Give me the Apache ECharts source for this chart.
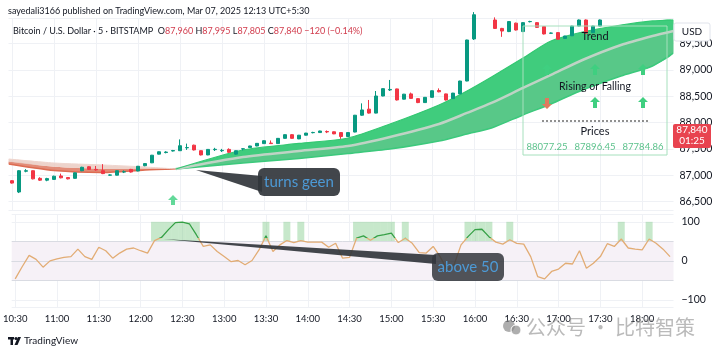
<!DOCTYPE html>
<html>
<head>
<meta charset="utf-8">
<title>BTCUSD 5m</title>
<script src="https://cdn.jsdelivr.net/npm/echarts@6/dist/echarts.min.js"></script>
<style>
	html, body { margin: 0; padding: 0; background: #fff; }
	#chart { width: 720px; height: 355px; }
</style>
</head>
<body>
<div id="chart"></div>
<script>
// 5 minute bars, first one at 10:30
var startMinute = 10 * 60 + 30;
var barCount = 95;
var times = [];
for (var i = 0; i < barCount; i++) {
	var m = startMinute + i * 5;
	times.push(Math.floor(m / 60) + ':' + ('0' + m % 60).slice(-2));
}

// [open, close, low, high]; '-' where the bar is above the visible range
var candles = [
	[86895, 86850, 86840, 86905], [86680, 87085, 86660, 87095], [87075, 87085, 87055, 87115], [87085, 86930, 86920, 87090],
	[86940, 86905, 86890, 86960], [86905, 86935, 86885, 86950], [86920, 86980, 86910, 86990], [86985, 86950, 86940, 87030],
	[86955, 86930, 86920, 86965], [86940, 87045, 86935, 87050], [87085, 87150, 87075, 87160], [87160, 87110, 87100, 87170],
	[87110, 87100, 87085, 87175], [87085, 87030, 87020, 87210], [87000, 87005, 86990, 87015], [87000, 87085, 86995, 87090],
	[87060, 87065, 87040, 87090], [87110, 87060, 87050, 87120], [87080, 87170, 87075, 87175], [87180, 87220, 87170, 87230],
	[87235, 87380, 87230, 87385], [87400, 87445, 87395, 87450], [87430, 87440, 87415, 87455], [87460, 87468, 87450, 87480],
	[87465, 87560, 87460, 87680], [87520, 87525, 87480, 87600], [87570, 87480, 87470, 87580], [87465, 87385, 87375, 87470],
	[87385, 87490, 87380, 87495], [87485, 87492, 87460, 87520], [87465, 87472, 87440, 87500], [87490, 87435, 87425, 87510],
	[87400, 87465, 87390, 87470], [87498, 87502, 87470, 87510], [87525, 87555, 87520, 87560], [87555, 87605, 87550, 87610],
	[87600, 87655, 87595, 87660], [87610, 87600, 87595, 87660], [87600, 87700, 87595, 87705], [87700, 87770, 87695, 87775],
	[87770, 87700, 87695, 87780], [87690, 87760, 87685, 87765], [87760, 87800, 87755, 87805], [87808, 87812, 87795, 87825],
	[87810, 87840, 87805, 87845], [87830, 87822, 87800, 87850], [87825, 87785, 87780, 87830], [87810, 87735, 87690, 87815],
	[87735, 87810, 87730, 87815], [87820, 88140, 87815, 88145], [88140, 88240, 88130, 88365], [88255, 88180, 88170, 88430],
	[88180, 88505, 88175, 88600], [88505, 88645, 88500, 88650], [88620, 88630, 88600, 88810], [88640, 88430, 88420, 88645],
	[88445, 88540, 88440, 88545], [88545, 88460, 88455, 88570], [88455, 88380, 88370, 88460], [88380, 88480, 88375, 88485],
	[88480, 88605, 88475, 88610], [88610, 88585, 88575, 88650], [88545, 88430, 88420, 88550], [88455, 88560, 88450, 88565],
	[88545, 88790, 88540, 88795], [88790, 89570, 88785, 89575], [89590, 90050, 89570, 90100], '-',
	'-', [89950, 89790, 89780, 90000], [89790, 89740, 89630, 89800], [89730, 89920, 89720, 89930],
	[89890, 89760, 89750, 89900], [89730, 89900, 89720, 89910], [89918, 89922, 89905, 89935], [89900, 89810, 89800, 89910],
	[89825, 89685, 89675, 89835], [89698, 89702, 89690, 89712], [89710, 89585, 89575, 89720], [89600, 89645, 89595, 89650],
	[89650, 89835, 89645, 89840], [89835, 89950, 89830, 89960], [89950, 89700, 89690, 89960], [89710, 89835, 89705, 89840],
	[89835, 89950, 89830, 89960], '-', '-', '-', '-', '-', '-', '-', '-', '-', '-'
];

// MA ribbon, read at a few bar positions
var redX = [-0.5, 6, 13, 19, 23.4];
var redSlow = [87308, 87232, 87194, 87156, 87118];
var redMid = [87260, 87160, 87120, 87128, 87118];
var redFast = [87213, 87090, 87052, 87099, 87118];

var greenX = [23.4, 33, 41, 48, 54, 61, 65, 68.5, 73, 77, 81.5, 87, 91.5, 94.5];
var greenFast = [87118, 87479, 87603, 87707, 87973, 88335, 88601, 88867, 89228, 89551, 89722, 89855, 89932, 89950];
var greenMid = [87118, 87346, 87460, 87555, 87726, 87973, 88183, 88373, 88658, 88905, 89190, 89475, 89646, 89741];
var greenSlow = [87118, 87232, 87317, 87413, 87498, 87650, 87783, 87897, 88145, 88354, 88620, 88886, 89076, 89323];

// lower pane oscillator
var osc = [
	-46, -15, 14, 4, -16, 0, 5, 9, 11, 30, 11, 4, 35, 26, 7, 20, 30, 33, 26, 20,
	52, 60, 80, 98, 99, 95, 67, 37, 41, 24, 11, -2, 1, -10, 1, 28, 64, 24, 41, 52,
	47, 52, 48, 48, 48, 35, 45, 7, 9, 58, 64, 53, 64, 67, 71, 47, 58, 45, 21, 20,
	37, 11, -23, -10, 41, 62, 80, 81, 62, 48, 43, 54, 45, 43, 11, -40, -46, -27, -21, -6,
	-8, 26, -19, -6, 11, 44, 37, 56, 33, 30, 28, 56, 45, 30, 11
];
var oscLevel = 50, oscMin = -118, oscMax = 120;

var crossBar = 23, crossPrice = 86530;
var tablePrices = ['88077.25', '87896.45', '87784.86'];
var lastClose = 87840, countdown = '01:25';

var UP = '#089981', DOWN = '#f23645', GRID = '#eff1f5', TXT = '#131722';

// filled ribbon between price lines (listed bottom to top), drawn through the axes
function ribbon(name, xs, lines, fills, strokes) {
	return {
		name: name, type: 'custom', xAxisIndex: 1, yAxisIndex: 0, silent: true, z: 1,
		data: xs.map(function (x, i) { return [x, lines[0][i]]; }),
		encode: { x: 0, y: 1 },
		renderItem: function (params, api) {
			if (params.dataIndex !== 0) return;
			var pts = lines.map(function (l) {
				return xs.map(function (x, i) { return api.coord([x, l[i]]); });
			});
			var children = [];
			fills.forEach(function (f, k) {
				children.push({
					type: 'polygon',
					shape: { points: pts[k].concat(pts[k + 1].slice().reverse()), smooth: 0.25 },
					style: { fill: f }
				});
			});
			strokes.forEach(function (s, k) {
				if (!s) return;
				children.push({
					type: 'polyline',
					shape: { points: pts[k], smooth: 0.25 },
					style: { stroke: s[0], lineWidth: s[1], fill: null }
				});
			});
			var cs = params.coordSys;
			return {
				type: 'group', children: children,
				clipPath: { type: 'rect', shape: { x: cs.x, y: cs.y, width: cs.width, height: cs.height } }
			};
		}
	};
}

var hlBase = osc.map(function (v) { return v > oscLevel ? oscLevel : '-'; });
var levelStop = (oscMax - oscLevel) / (oscMax - oscMin);

var chart = echarts.init(document.getElementById('chart'));

chart.setOption({
	animation: false,
	textStyle: { fontFamily: 'Lato, sans-serif' },
	grid: [
		{ left: 8.5, width: 665, top: 18, height: 192 },
		{ left: 8.5, width: 665, top: 214, height: 93 }
	],
	xAxis: [
		{
			type: 'category', gridIndex: 0, data: times,
			axisLine: { show: false }, axisTick: { show: false }, axisLabel: { show: false },
			splitLine: { show: true, interval: 5, alignWithLabel: true, lineStyle: { color: GRID } }
		},
		{ type: 'value', gridIndex: 0, min: -0.5, max: 94.5, show: false },
		{
			type: 'category', gridIndex: 1, data: times,
			axisLine: { show: true, lineStyle: { color: '#e0e3eb' } }, axisTick: { show: false },
			axisLabel: { interval: 5, color: TXT, fontSize: 9.5, margin: 7 },
			splitLine: { show: true, interval: 5, alignWithLabel: true, lineStyle: { color: GRID } }
		}
	],
	yAxis: [
		{
			type: 'value', gridIndex: 0, position: 'right', min: 86338, max: 89988, splitNumber: 7,
			axisLine: { show: false }, axisTick: { show: false },
			axisLabel: {
				color: TXT, fontSize: 10.5, margin: 6, showMinLabel: false, showMaxLabel: false,
				formatter: function (v) { return v.toLocaleString('en-US'); }
			},
			splitLine: { lineStyle: { color: GRID } }
		},
		{
			type: 'value', gridIndex: 1, position: 'right', min: oscMin, max: oscMax, splitNumber: 3,
			axisLine: { show: false }, axisTick: { show: false },
			axisLabel: {
				color: TXT, fontSize: 10.5, margin: 8, showMinLabel: false, showMaxLabel: false,
				formatter: function (v) { return v < 0 ? '\u2212' + Math.abs(v) : String(v); }
			},
			splitLine: { lineStyle: { color: GRID } }
		}
	],
	series: [
		ribbon('red ribbon', redX, [redFast, redMid, redSlow],
			['rgba(221,120,96,0.85)', 'rgba(233,200,190,0.8)'],
			[['#dd6c52', 1.5], null, ['#efd6cf', 1]]),
		ribbon('green ribbon', greenX, [greenSlow, greenMid, greenFast],
			['#58c888', '#40cc7d'],
			[['#3cc97c', 1.5], ['#bfd3c5', 2.5], ['#33c872', 1.2]]),
		{
			name: 'BTCUSD', type: 'candlestick', xAxisIndex: 0, yAxisIndex: 0,
			data: candles, barMaxWidth: 5, clip: true, z: 3,
			itemStyle: { color: UP, color0: DOWN, borderColor: UP, borderColor0: DOWN, borderWidth: 1 }
		},
		{
			name: 'cross', type: 'scatter', xAxisIndex: 0, yAxisIndex: 0,
			data: [[crossBar, crossPrice]], symbolSize: [10, 10], z: 4,
			symbol: 'path://M5,0 L10,5 L7,5 L7,10 L3,10 L3,5 L0,5 Z',
			itemStyle: { color: '#3ccf80' }
		},
		{
			name: 'hl base', type: 'bar', xAxisIndex: 2, yAxisIndex: 1, stack: 'hl',
			data: hlBase, barWidth: '100%', silent: true,
			itemStyle: { color: 'rgba(0,0,0,0)' },
			markArea: {
				silent: true, itemStyle: { color: '#f6f1f7' },
				data: [[{ yAxis: -oscLevel }, { yAxis: oscLevel }]]
			},
			markLine: {
				silent: true, symbol: 'none', label: { show: false },
				lineStyle: { color: '#d9dbe2', type: 'solid', width: 1 },
				data: [{ yAxis: oscLevel }, { yAxis: 0 }, { yAxis: -oscLevel }]
			}
		},
		{
			name: 'hl', type: 'bar', xAxisIndex: 2, yAxisIndex: 1, stack: 'hl',
			data: hlBase, barWidth: '100%', silent: true,
			itemStyle: { color: 'rgba(130,205,140,0.45)' }
		},
		{
			name: 'osc', type: 'line', xAxisIndex: 2, yAxisIndex: 1,
			data: osc, symbol: 'none', z: 5,
			lineStyle: {
				width: 1.3,
				color: new echarts.graphic.LinearGradient(0, 0, 0, 1, [
					{ offset: 0, color: '#35a045' }, { offset: levelStop, color: '#35a045' },
					{ offset: levelStop, color: '#e2ac74' }, { offset: 1, color: '#e2ac74' }
				], false)
			}
		}
	]
});

function arrow(cx, cy, up, color) {
	var s = up ? 1 : -1;
	return {
		type: 'polygon', z: 110, silent: true,
		shape: { points: [[cx, cy - 6 * s], [cx + 5, cy - 1 * s], [cx + 2, cy - 1 * s], [cx + 2, cy + 5 * s],
			[cx - 2, cy + 5 * s], [cx - 2, cy - 1 * s], [cx - 5, cy - 1 * s]] },
		style: { fill: color }
	};
}
function label(text, x, y, font, color, align) {
	return {
		type: 'text', z: 120, silent: true,
		style: { text: text, x: x, y: y, font: font, fill: color, align: align || 'center', verticalAlign: 'middle' }
	};
}

function overlays() {
	var py = chart.convertToPixel({ yAxisIndex: 0 }, lastClose);
	var g = [];
	// header
	g.push(label('sayedali3166 published on TradingView.com, Mar 07, 2025 12:13 UTC+5:30', 8, 11, '9px Lato', TXT, 'left'));
	g.push({
		type: 'text', z: 120, silent: true,
		style: {
			x: 13, y: 31, verticalAlign: 'middle',
			text: '{d|Bitcoin / U.S. Dollar · 5 · BITSTAMP  O}{r|87,960}{d| H}{r|87,995}{d| L}{r|87,805}{d| C}{r|87,840}{r| \u2212120 (\u22120.14%)}',
			rich: {
				d: { fill: TXT, font: '9px Lato' },
				r: { fill: '#d13b4c', font: '9px Lato' }
			}
		}
	});
	// table
	g.push({ type: 'rect', z: 105, silent: true, shape: { x: 523, y: 26, width: 144, height: 129 },
		style: { fill: 'none', stroke: '#a6e0bd', lineWidth: 1 } });
	g.push(label('Trend', 595, 36, '11px Lato', TXT));
	g.push(arrow(547, 70, true, '#3fcf80'));
	g.push(arrow(595, 70, true, '#3fcf80'));
	g.push(arrow(643, 70, true, '#3fcf80'));
	g.push(label('Rising or Falling', 595, 87, '10.5px Lato', TXT));
	g.push(arrow(547, 103, false, '#e07a5f'));
	g.push(arrow(595, 103, true, '#3fcf80'));
	g.push(arrow(643, 103, true, '#3fcf80'));
	g.push({ type: 'line', z: 110, silent: true, shape: { x1: 542, y1: 121, x2: 648, y2: 121 },
		style: { stroke: '#222', lineWidth: 1, lineDash: [2, 2] } });
	g.push(label('Prices', 595, 131, '11px Lato', TXT));
	g.push(label(tablePrices[0], 547, 147, '9.5px Lato', '#5cc28c'));
	g.push(label(tablePrices[1], 595, 147, '9.5px Lato', '#5cc28c'));
	g.push(label(tablePrices[2], 643, 147, '9.5px Lato', '#5cc28c'));
	// callouts
	g.push({ type: 'polygon', z: 115, silent: true, shape: { points: [[196, 170], [262, 176], [262, 192]] },
		style: { fill: 'rgba(50,54,60,0.92)' } });
	g.push({ type: 'rect', z: 115, silent: true, shape: { x: 258, y: 168, width: 82, height: 28, r: 6 },
		style: { fill: 'rgba(50,54,60,0.92)' } });
	g.push(label('turns geen', 299, 182, '15px Lato', '#4d9ad6'));
	g.push({ type: 'polygon', z: 115, silent: true, shape: { points: [[163, 239], [436, 255], [436, 264]] },
		style: { fill: 'rgba(50,54,60,0.92)' } });
	g.push({ type: 'rect', z: 115, silent: true, shape: { x: 432, y: 253, width: 72, height: 28, r: 6 },
		style: { fill: 'rgba(50,54,60,0.85)' } });
	g.push(label('above 50', 468, 267, '15px Lato', '#4d9ad6'));
	// price scale boxes
	g.push({ type: 'rect', z: 118, silent: true, shape: { x: 674, y: 23, width: 36, height: 18, r: 2 },
		style: { fill: '#fff', stroke: '#e0e3eb' } });
	g.push(label('USD', 692, 32, '10px Lato', TXT));
	g.push({ type: 'rect', z: 118, silent: true, shape: { x: 673, y: py - 7, width: 38, height: 24, r: 2 },
		style: { fill: '#e8434f' } });
	g.push(label(lastClose.toLocaleString('en-US'), 692, py - 1, '10px Lato', '#fff'));
	g.push(label(countdown, 692, py + 10, '10px Lato', '#fff'));
	// footer
	g.push({ type: 'rect', z: 118, silent: true, shape: { x: 8, y: 337, width: 6, height: 2.5 }, style: { fill: TXT } });
	g.push({ type: 'rect', z: 118, silent: true, shape: { x: 10.5, y: 337, width: 2.5, height: 8 }, style: { fill: TXT } });
	g.push({ type: 'circle', z: 118, silent: true, shape: { cx: 16, cy: 338.5, r: 1.6 }, style: { fill: TXT } });
	g.push({ type: 'polygon', z: 118, silent: true, shape: { points: [[18, 337], [21, 337], [17.5, 345], [14.5, 345]] }, style: { fill: TXT } });
	g.push(label('TradingView', 24, 341, '10px Lato', TXT, 'left'));
	// watermark
	g.push({ type: 'circle', z: 118, silent: true, shape: { cx: 509, cy: 326, r: 6 }, style: { fill: 'rgba(140,140,140,0.7)' } });
	g.push({ type: 'circle', z: 118, silent: true, shape: { cx: 516, cy: 330, r: 5 }, style: { fill: 'rgba(140,140,140,0.7)', stroke: '#fff', lineWidth: 1 } });
	g.push(label('公众号 · 比特智策', 526, 327, '20px "Noto Sans CJK SC"', 'rgba(140,140,140,0.6)', 'left'));
	return g;
}

chart.setOption({ graphic: overlays() });
</script>
</body>
</html>
